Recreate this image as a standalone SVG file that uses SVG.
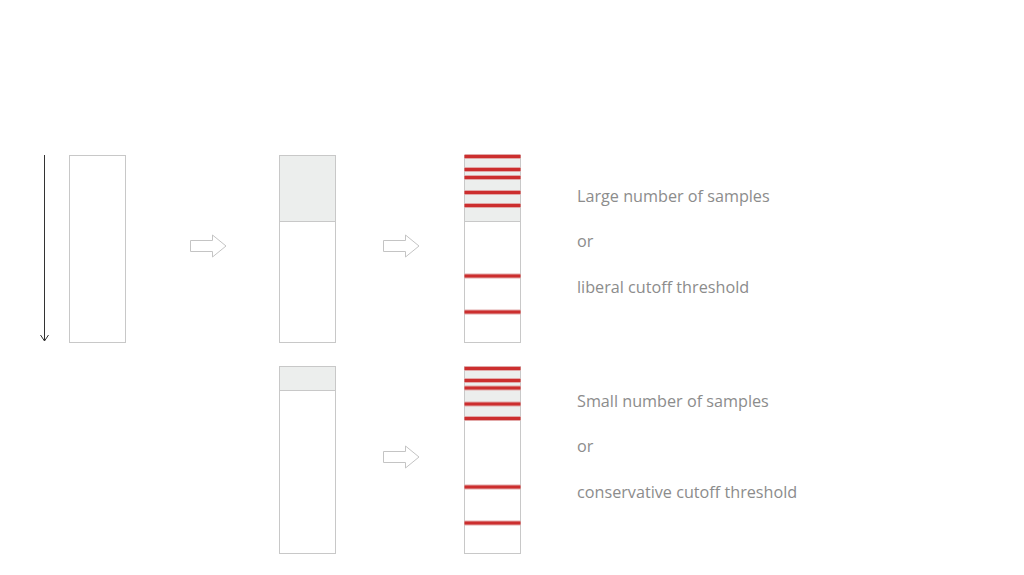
<svg xmlns="http://www.w3.org/2000/svg" width="1024" height="575" viewBox="0 0 1024 575">
<style>
.col{fill:#ffffff;stroke:#c8c8c8;stroke-width:1}
.shade{fill:#eceeed;stroke:none}
.band{stroke:#cc2e2e;stroke-width:3}
.halo{stroke:#e2a9a9;stroke-width:5}
.barrow{fill:#ffffff;stroke:#c4c4c4;stroke-width:1}
.lbl{font-family:"Open Sans","Liberation Sans",sans-serif;font-size:16.2px;fill:#8c8c8c}
</style>
<defs>
<g id="bandT">
<line class="halo" x1="0" y1="0" x2="56" y2="0"/>
<line class="band" x1="0" y1="0" x2="56" y2="0"/>
</g>
</defs>
<rect width="1024" height="575" fill="#ffffff"/>
<g id="connectors">
<line x1="44.5" y1="155" x2="44.5" y2="341" stroke="#333" stroke-width="1"/>
<path d="M40.5,335 L44.5,341 L48.5,335" fill="none" stroke="#333" stroke-width="1"/>
<path class="barrow" d="M190.5,240.5 H212.5 V235 L226,246 L212.5,257 V251.5 H190.5 Z"/>
<path class="barrow" d="M383.5,240.5 H405.5 V235 L419,246 L405.5,257 V251.5 H383.5 Z"/>
<path class="barrow" d="M383.5,451.5 H405.5 V446 L419,457 L405.5,468 V462.5 H383.5 Z"/>
</g>
<g id="col1">
<rect class="col" x="69.5" y="155.5" width="56" height="187"/>
</g>
<g id="col2">
<rect class="col" x="279.5" y="155.5" width="56" height="187"/>
<rect class="shade" x="280" y="156" width="55" height="65"/>
<line x1="279.5" y1="221.5" x2="335.5" y2="221.5" stroke="#c8c8c8"/>
</g>
<g id="col3">
<rect class="col" x="464.5" y="155.5" width="56" height="187"/>
<rect class="shade" x="465" y="156" width="55" height="65"/>
<line x1="464.5" y1="221.5" x2="520.5" y2="221.5" stroke="#c8c8c8"/>
<use href="#bandT" x="464.5" y="156.5"/>
<use href="#bandT" x="464.5" y="169.5"/>
<use href="#bandT" x="464.5" y="177.5"/>
<use href="#bandT" x="464.5" y="192.5"/>
<use href="#bandT" x="464.5" y="205.5"/>
<use href="#bandT" x="464.5" y="276"/>
<use href="#bandT" x="464.5" y="312"/>
</g>
<g id="col4">
<rect class="col" x="279.5" y="366.5" width="56" height="187"/>
<rect class="shade" x="280" y="367" width="55" height="23"/>
<line x1="279.5" y1="390.5" x2="335.5" y2="390.5" stroke="#c8c8c8"/>
</g>
<g id="col5">
<rect class="col" x="464.5" y="366.5" width="56" height="187"/>
<rect class="shade" x="465" y="367" width="55" height="54"/>
<use href="#bandT" x="464.5" y="368.5"/>
<use href="#bandT" x="464.5" y="380.5"/>
<use href="#bandT" x="464.5" y="388"/>
<use href="#bandT" x="464.5" y="404"/>
<use href="#bandT" x="464.5" y="418.5"/>
<use href="#bandT" x="464.5" y="487"/>
<use href="#bandT" x="464.5" y="523"/>
</g>
<g id="text-top">
<text class="lbl" x="577" y="202">Large number of samples</text>
<text class="lbl" x="577" y="247">or</text>
<text class="lbl" x="577" y="293">liberal cutoff threshold</text>
</g>
<g id="text-bottom">
<text class="lbl" x="577" y="407">Small number of samples</text>
<text class="lbl" x="577" y="452">or</text>
<text class="lbl" x="577" y="498">conservative cutoff threshold</text>
</g>
</svg>
